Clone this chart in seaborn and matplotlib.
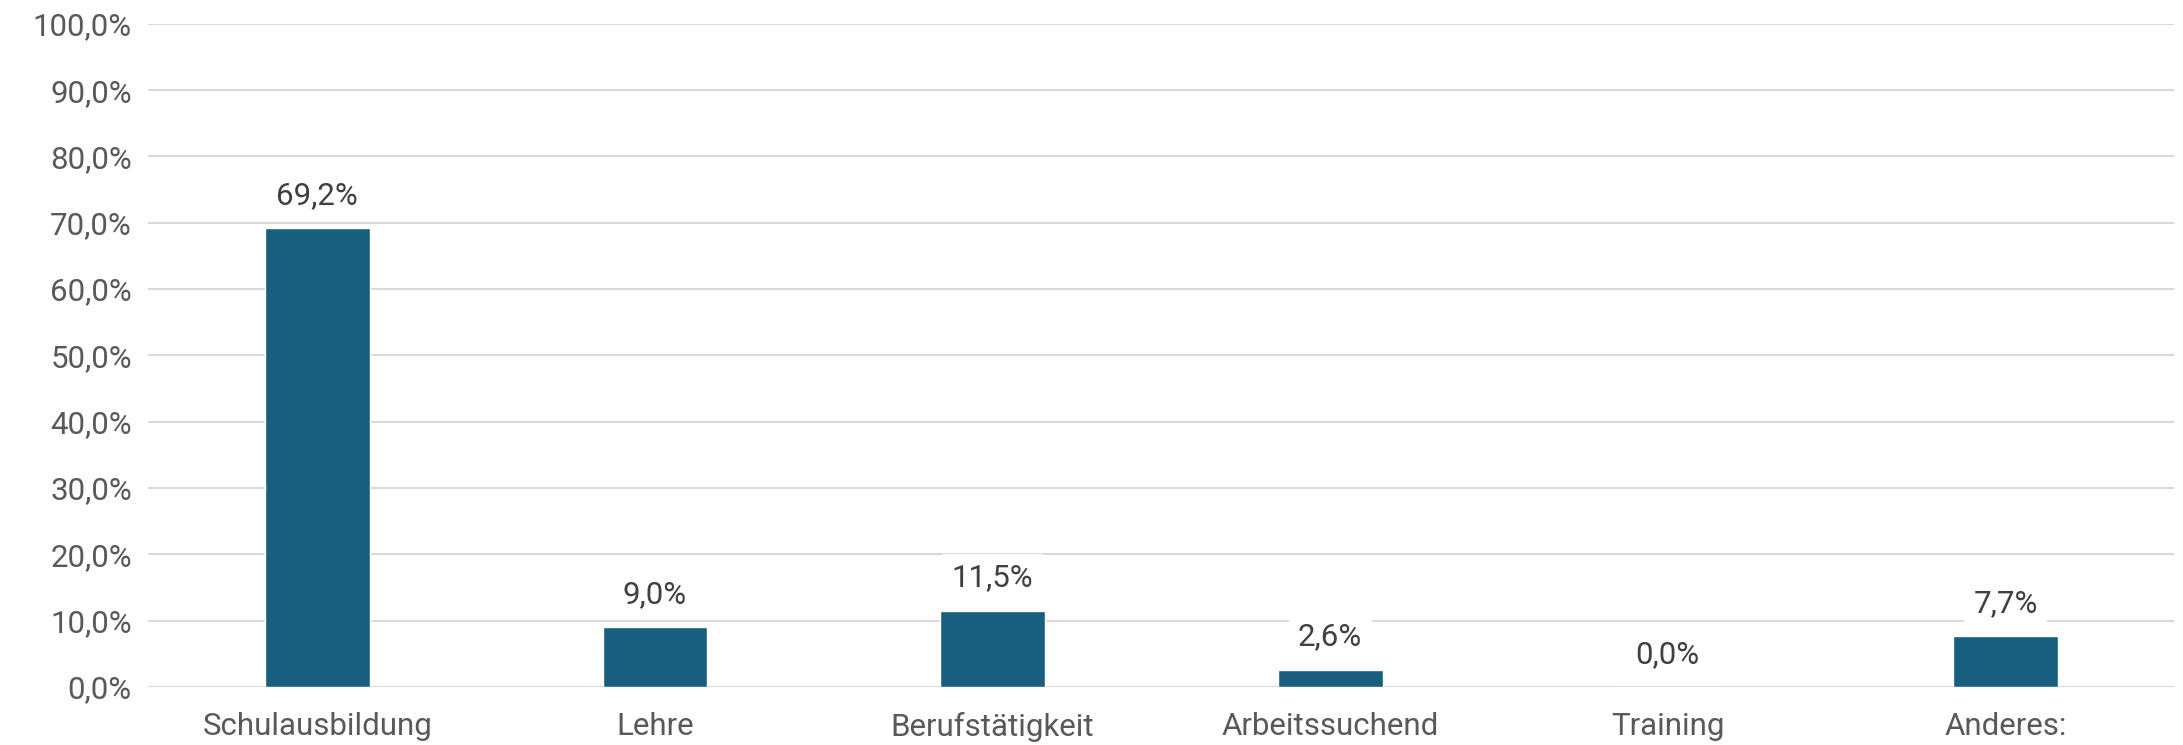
import matplotlib
matplotlib.use('Agg')
import matplotlib.pyplot as plt
import seaborn as sns
import pandas as pd
from matplotlib.ticker import FuncFormatter

categories = ['Schulausbildung', 'Lehre', 'Berufstätigkeit', 'Arbeitssuchend', 'Training', 'Anderes:']
values = [69.2, 9.0, 11.5, 2.6, 0.0, 7.7]

df = pd.DataFrame({'Kategorie': categories, 'Anteil': values})

sns.set_theme(style='white')
plt.rcParams['font.family'] = ['Roboto', 'DejaVu Sans']

fig, ax = plt.subplots(figsize=(21.83, 7.45), dpi=100)
fig.subplots_adjust(left=0.068, right=0.996, top=0.968, bottom=0.078)

sns.barplot(data=df, x='Kategorie', y='Anteil', color='#175E7F', width=0.31,
            saturation=1, ax=ax, zorder=3)

ax.set_ylim(0, 100)
ax.set_yticks(range(0, 101, 10))
ax.yaxis.set_major_formatter(FuncFormatter(lambda v, p: f'{v:.1f}%'.replace('.', ',')))
ax.grid(axis='y', color='#D9D9D9', linewidth=1.5, zorder=0)
ax.set_axisbelow(True)
for s in ax.spines.values():
    s.set_visible(False)
ax.set_xlabel('')
ax.set_ylabel('')
ax.tick_params(axis='both', length=0, labelsize=22.5, colors='#595959')
ax.tick_params(axis='x', pad=18)
ax.tick_params(axis='y', pad=12)

for i, v in enumerate(values):
    ax.annotate(f'{v:.1f}%'.replace('.', ','), (i, v), xytext=(0, 13),
                textcoords='offset points', ha='center', va='bottom',
                fontsize=22.5, color='#404040', zorder=4,
                bbox=dict(boxstyle='square,pad=0.3', fc='white', ec='none'))

fig.savefig('out.png', dpi=100)
